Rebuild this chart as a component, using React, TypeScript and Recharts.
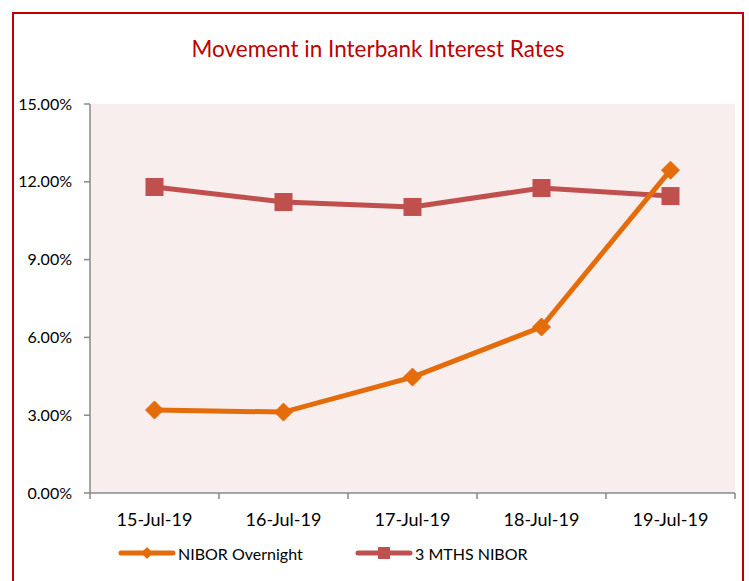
import React from 'react';
import { LineChart, Line, XAxis, YAxis, CartesianGrid, Legend } from 'recharts';

const dates = ['15-Jul-19', '16-Jul-19', '17-Jul-19', '18-Jul-19', '19-Jul-19'];
const niborOvernight = [3.2, 3.12, 4.47, 6.4, 12.45];
const nibor3m = [11.8, 11.22, 11.03, 11.76, 11.45];
const yTicks = [0, 3, 6, 9, 12, 15];
const seriesNames = ['NIBOR Overnight', '3 MTHS NIBOR'];

const ORANGE = '#E46C0A';
const RED = '#C0504D';
const FONT = 'Lato, "Liberation Sans", sans-serif';
const DIAMOND_R = 9;
const SQUARE_HALF = 9;

const data = dates.map((d, i) => ({
  pos: i + 0.5,
  date: d,
  overnight: niborOvernight[i],
  mths3: nibor3m[i],
}));

const xTicks: number[] = [];
for (let i = 0; i <= dates.length * 2; i++) xTicks.push(i / 2);

const XTick = (props: any) => {
  const { x, y, payload } = props;
  const v = payload.value;
  if (Number.isInteger(v)) {
    return <line x1={x} x2={x} y1={y - 20} y2={y - 14} stroke="#888" strokeWidth={1.5} />;
  }
  return (
    <text x={x} y={y} dy="0.71em" textAnchor="middle" fontFamily={FONT} fontSize={18} fill="#000">
      {dates[Math.floor(v)]}
    </text>
  );
};

const Diamond = (props: any) => {
  const { cx, cy } = props;
  if (cx == null || cy == null) return null;
  const r = DIAMOND_R;
  return (
    <polygon
      points={`${cx},${cy - r} ${cx + r},${cy} ${cx},${cy + r} ${cx - r},${cy}`}
      fill={ORANGE}
      stroke={ORANGE}
      strokeWidth={1}
    />
  );
};

const Square = (props: any) => {
  const { cx, cy } = props;
  if (cx == null || cy == null) return null;
  const s = SQUARE_HALF;
  return <rect x={cx - s} y={cy - s} width={s * 2} height={s * 2} fill={RED} />;
};

const LegendContent = () => (
  <div style={{ position: 'relative', height: 20, fontFamily: FONT, fontSize: 16, color: '#000' }}>
    <div style={{ position: 'absolute', left: 118, top: 0, display: 'flex', alignItems: 'center', height: 20 }}>
      <svg width={58} height={20}>
        <line x1={3} x2={55} y1={10} y2={10} stroke={ORANGE} strokeWidth={5} strokeLinecap="round" />
        <polygon points="29,4 35,10 29,16 23,10" fill={ORANGE} />
      </svg>
      <span style={{ marginLeft: 2, whiteSpace: 'nowrap' }}>{seriesNames[0]}</span>
    </div>
    <div style={{ position: 'absolute', left: 355, top: 0, display: 'flex', alignItems: 'center', height: 20 }}>
      <svg width={58} height={20}>
        <line x1={3} x2={55} y1={10} y2={10} stroke={RED} strokeWidth={5} strokeLinecap="round" />
        <rect x={23} y={4} width={12} height={12} fill={RED} />
      </svg>
      <span style={{ marginLeft: 2, whiteSpace: 'nowrap' }}>{seriesNames[1]}</span>
    </div>
  </div>
);

export default function App() {
  return (
    <div style={{ position: 'absolute', left: 0, top: 0, width: 749, height: 581, overflow: 'hidden', background: '#fff' }}>
      <div
        style={{
          position: 'absolute',
          left: 12,
          top: 12,
          width: 732,
          height: 700,
          border: '2px solid #C00000',
          boxSizing: 'border-box',
        }}
      />
      <div
        style={{
          position: 'absolute',
          left: 12,
          top: 35,
          width: 732,
          textAlign: 'center',
          fontFamily: FONT,
          fontSize: 22.5,
          color: '#C00000',
          lineHeight: '28px',
        }}
      >
        Movement in Interbank Interest Rates
      </div>
      <div style={{ position: 'absolute', left: 0, top: 0 }}>
        <LineChart width={749} height={581} data={data} margin={{ top: 104, right: 14, bottom: 18, left: 0 }}>
          <CartesianGrid horizontal={false} vertical={false} fill="#F8EEED" />
          <XAxis
            dataKey="pos"
            type="number"
            domain={[0, 5]}
            ticks={xTicks}
            interval={0}
            tickLine={false}
            tickSize={6}
            tickMargin={14}
            height={50}
            axisLine={{ stroke: '#888', strokeWidth: 1.5 }}
            tick={<XTick />}
          />
          <YAxis
            type="number"
            domain={[0, 15]}
            ticks={yTicks}
            interval={0}
            width={90}
            tickSize={6}
            tickMargin={12}
            tickLine={{ stroke: '#888', strokeWidth: 1.5 }}
            axisLine={{ stroke: '#888', strokeWidth: 1.5 }}
            tick={{ fontFamily: FONT, fontSize: 16, fill: '#000' }}
            tickFormatter={(v: number) => `${v.toFixed(2)}%`}
          />
          <Legend verticalAlign="bottom" content={<LegendContent />} wrapperStyle={{ left: 0, width: 749 }} />
          <Line
            dataKey="mths3"
            name={seriesNames[1]}
            stroke={RED}
            strokeWidth={5}
            dot={<Square />}
            activeDot={false}
            isAnimationActive={false}
          />
          <Line
            dataKey="overnight"
            name={seriesNames[0]}
            stroke={ORANGE}
            strokeWidth={5}
            dot={<Diamond />}
            activeDot={false}
            isAnimationActive={false}
          />
        </LineChart>
      </div>
    </div>
  );
}
